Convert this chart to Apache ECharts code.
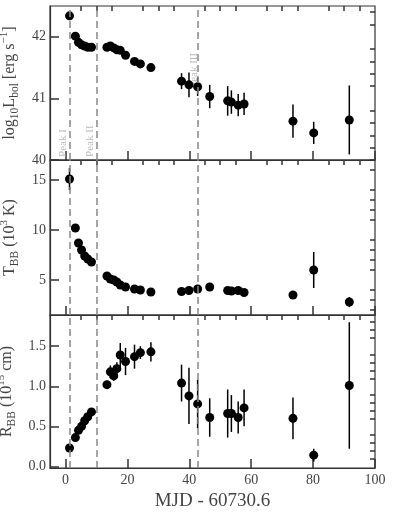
<!DOCTYPE html>
<html>
<head>
<meta charset="utf-8">
<script src="https://cdn.jsdelivr.net/npm/echarts@6.0.0/dist/echarts.min.js"></script>
<style>
  html, body { margin: 0; padding: 0; background: #fff; }
  #chart-target { width: 393px; height: 514px; }
</style>
</head>
<body>
<div id="chart-target"></div>
<script>
  // epochs (MJD - 60730.6)
  const mjd = [1.3, 3.2, 4.2, 5.2, 6.2, 7.2, 8.4, 13.4, 14.5, 15.6, 16.6, 17.7, 19.4, 22.3, 24.2, 27.6,
    37.5, 39.9, 42.7, 46.6, 52.4, 53.6, 55.8, 57.7, 73.5, 80.2, 91.7]

  const logLbol = [42.34, 42.01, 41.91, 41.87, 41.85, 41.83, 41.83, 41.83, 41.85, 41.82, 41.79, 41.78, 41.70, 41.60, 41.56, 41.50,
    41.28, 41.22, 41.19, 41.03, 40.96, 40.94, 40.89, 40.91, 40.63, 40.44, 40.65]
  const logLbolErr = [0.03, 0.02, 0.02, 0.02, 0.02, 0.02, 0.02, 0.02, 0.02, 0.02, 0.02, 0.02, 0.02, 0.02, 0.02, 0.02,
    0.13, 0.20, 0.15, 0.19, 0.24, 0.19, 0.18, 0.18, 0.27, 0.18, 0.56]

  const tBB = [15.1, 10.2, 8.7, 8.0, 7.4, 7.1, 6.8, 5.4, 5.1, 5.0, 4.8, 4.5, 4.3, 4.1, 4.0, 3.8,
    3.85, 3.95, 4.1, 4.3, 3.95, 3.9, 3.95, 3.75, 3.5, 6.0, 2.8]
  const tBBErr = [1.1, 0.15, 0.15, 0.15, 0.15, 0.15, 0.15, 0.1, 0.1, 0.1, 0.1, 0.1, 0.1, 0.1, 0.1, 0.1,
    0.15, 0.15, 0.25, 0.2, 0.2, 0.15, 0.15, 0.15, 0.4, 1.8, 0.5]

  const rBB = [0.23, 0.36, 0.45, 0.50, 0.57, 0.62, 0.68, 1.02, 1.18, 1.13, 1.22, 1.39, 1.31, 1.37, 1.42, 1.43,
    1.04, 0.88, 0.78, 0.61, 0.66, 0.66, 0.61, 0.73, 0.60, 0.14, 1.01]
  const rBBErr = [0.02, 0.02, 0.02, 0.02, 0.02, 0.02, 0.02, 0.05, 0.08, 0.06, 0.08, 0.15, 0.17, 0.15, 0.08, 0.12,
    0.23, 0.35, 0.3, 0.24, 0.30, 0.23, 0.2, 0.23, 0.26, 0.08, 0.79]

  const peakNames = ['Peak I', 'Peak II', 'Peak III']
  const peakMjd = [1.3, 9.95, 42.7]
  const peakLabelY = [40.05, 40.05, 41.17]

  const xTicks = [0, 20, 40, 60, 80, 100]
  const lTicks = [40, 41, 42]
  const tTicks = [5, 10, 15]
  const rTicks = [0, 0.5, 1.0, 1.5]

  function steps(from, to, step, skip) {
    let out = []
    for (let v = from; v <= to + 1e-9; v += step) {
      let r = Math.round(v * 100) / 100
      if (skip.indexOf(r) < 0) out.push(r)
    }
    return out
  }
  const xMinor = steps(5, 95, 5, xTicks)
  const lMinor = steps(40.2, 42.4, 0.2, lTicks)
  const tMinor = steps(2, 17, 1, tTicks)
  const rMinor = steps(0.1, 1.8, 0.1, rTicks)

  const font = 'Liberation Serif'
  const ink = '#333'
  const textCol = '#444'

  const grids = [
    {top: 6, height: 154},
    {top: 160, height: 155},
    {top: 315, height: 153}
  ].map(g => Object.assign({left: 50, right: 18, show: true, borderColor: ink, borderWidth: 1.2,
    containLabel: false, outerBoundsMode: 'none'}, g))

  const xAxis = []
  const yAxis = []
  for (let g = 0; g < 3; g++) {
    xAxis.push({
      type: 'value', gridIndex: g, min: -5, max: 100,
      axisLine: {show: true, onZero: false, lineStyle: {color: ink, width: 1.2}},
      axisTick: {inside: true, length: 9, customValues: xTicks, lineStyle: {color: ink, width: 1.5}},
      axisLabel: {show: g === 2, customValues: xTicks, color: textCol, fontFamily: font, fontSize: 14, margin: 5},
      splitLine: {show: false},
      name: g === 2 ? 'MJD - 60730.6' : '',
      nameLocation: 'middle', nameGap: 24,
      nameTextStyle: {color: textCol, fontFamily: font, fontSize: 19}
    })
    xAxis.push({
      type: 'value', gridIndex: g, min: -5, max: 100,
      axisLine: {show: false, onZero: false},
      axisTick: {inside: true, length: 5, customValues: xMinor, lineStyle: {color: ink, width: 1.5}},
      axisLabel: {show: false},
      splitLine: {show: false}
    })
  }

  const base = {fontFamily: font, fontSize: 16, color: textCol, lineHeight: 22, verticalAlign: 'middle'}
  const sub = {fontFamily: font, fontSize: 11.5, color: textCol, lineHeight: 11, verticalAlign: 'bottom'}
  const sup = {fontFamily: font, fontSize: 11, color: textCol, lineHeight: 11, verticalAlign: 'top'}
  const yCfg = [
    {min: 40, max: 42.5, ticks: lTicks, minor: lMinor, fmt: v => String(v),
      name: '{b|log}{s|10}{b|L}{s|bol}{b| [erg s}{p|−1}{b|]}'},
    {min: 1.5, max: 17, ticks: tTicks, minor: tMinor, fmt: v => String(v),
      name: '{b|T}{s|BB}{b| (10}{p|3}{b| K)}'},
    {min: -0.02, max: 1.89, ticks: rTicks, minor: rMinor, fmt: v => v.toFixed(1),
      name: '{b|R}{s|BB}{b| (10}{p|15}{b| cm)}'}
  ]
  yCfg.forEach((c, g) => {
    yAxis.push({
      type: 'value', gridIndex: g, min: c.min, max: c.max,
      axisLine: {show: true, onZero: false, lineStyle: {color: ink, width: 1.2}},
      axisTick: {inside: true, length: 9, customValues: c.ticks, lineStyle: {color: ink, width: 1.5}},
      axisLabel: {customValues: c.ticks, formatter: c.fmt, color: textCol, fontFamily: font, fontSize: 14, margin: 4},
      splitLine: {show: false},
      name: c.name, nameLocation: 'middle', nameRotate: 90, nameGap: 17,
      nameTextStyle: {rich: {b: base, s: sub, p: sup}}
    })
    yAxis.push({
      type: 'value', gridIndex: g, min: c.min, max: c.max,
      axisLine: {show: false, onZero: false},
      axisTick: {inside: true, length: 5, customValues: c.minor, lineStyle: {color: ink, width: 1.5}},
      axisLabel: {show: false},
      splitLine: {show: false}
    })
  })

  function errorBars(g, vals, errs) {
    return {
      type: 'custom', xAxisIndex: 2 * g, yAxisIndex: 2 * g, silent: true, z: 3,
      data: mjd.map((x, i) => [x, vals[i] - errs[i], vals[i] + errs[i]]),
      encode: {x: 0, y: [1, 2]},
      renderItem: (params, api) => {
        const lo = api.coord([api.value(0), api.value(1)])
        const hi = api.coord([api.value(0), api.value(2)])
        return {type: 'line', shape: {x1: lo[0], y1: lo[1], x2: hi[0], y2: hi[1]},
          style: {stroke: '#000', lineWidth: 1.5}}
      },
      markLine: {
        silent: true, symbol: 'none', label: {show: false},
        lineStyle: {color: '#888', width: 1.5, type: [7, 4]},
        data: peakMjd.map(x => ({xAxis: x}))
      }
    }
  }
  function points(g, vals) {
    return {
      type: 'scatter', xAxisIndex: 2 * g, yAxisIndex: 2 * g, silent: true, z: 4,
      symbolSize: 9, itemStyle: {color: '#000', opacity: 1},
      data: mjd.map((x, i) => [x, vals[i]])
    }
  }

  let myChart = echarts.init(document.getElementById('chart-target'), null, {renderer: 'canvas'})
  myChart.setOption({
    animation: false,
    grid: grids,
    xAxis: xAxis,
    yAxis: yAxis,
    series: [
      {
        type: 'scatter', xAxisIndex: 0, yAxisIndex: 0, silent: true, z: 2, symbolSize: 0,
        data: peakNames.map((n, i) => ({
          name: n, value: [peakMjd[i], peakLabelY[i]],
          label: i === 2 ? {position: [2, 0]} : {}
        })),
        label: {
          show: true, formatter: '{b}', position: [-1, 0], rotate: 90,
          align: 'left', verticalAlign: 'bottom',
          color: '#aaa', fontFamily: font, fontSize: 11
        }
      },
      errorBars(0, logLbol, logLbolErr), points(0, logLbol),
      errorBars(1, tBB, tBBErr), points(1, tBB),
      errorBars(2, rBB, rBBErr), points(2, rBB)
    ]
  })
</script>
</body>
</html>
